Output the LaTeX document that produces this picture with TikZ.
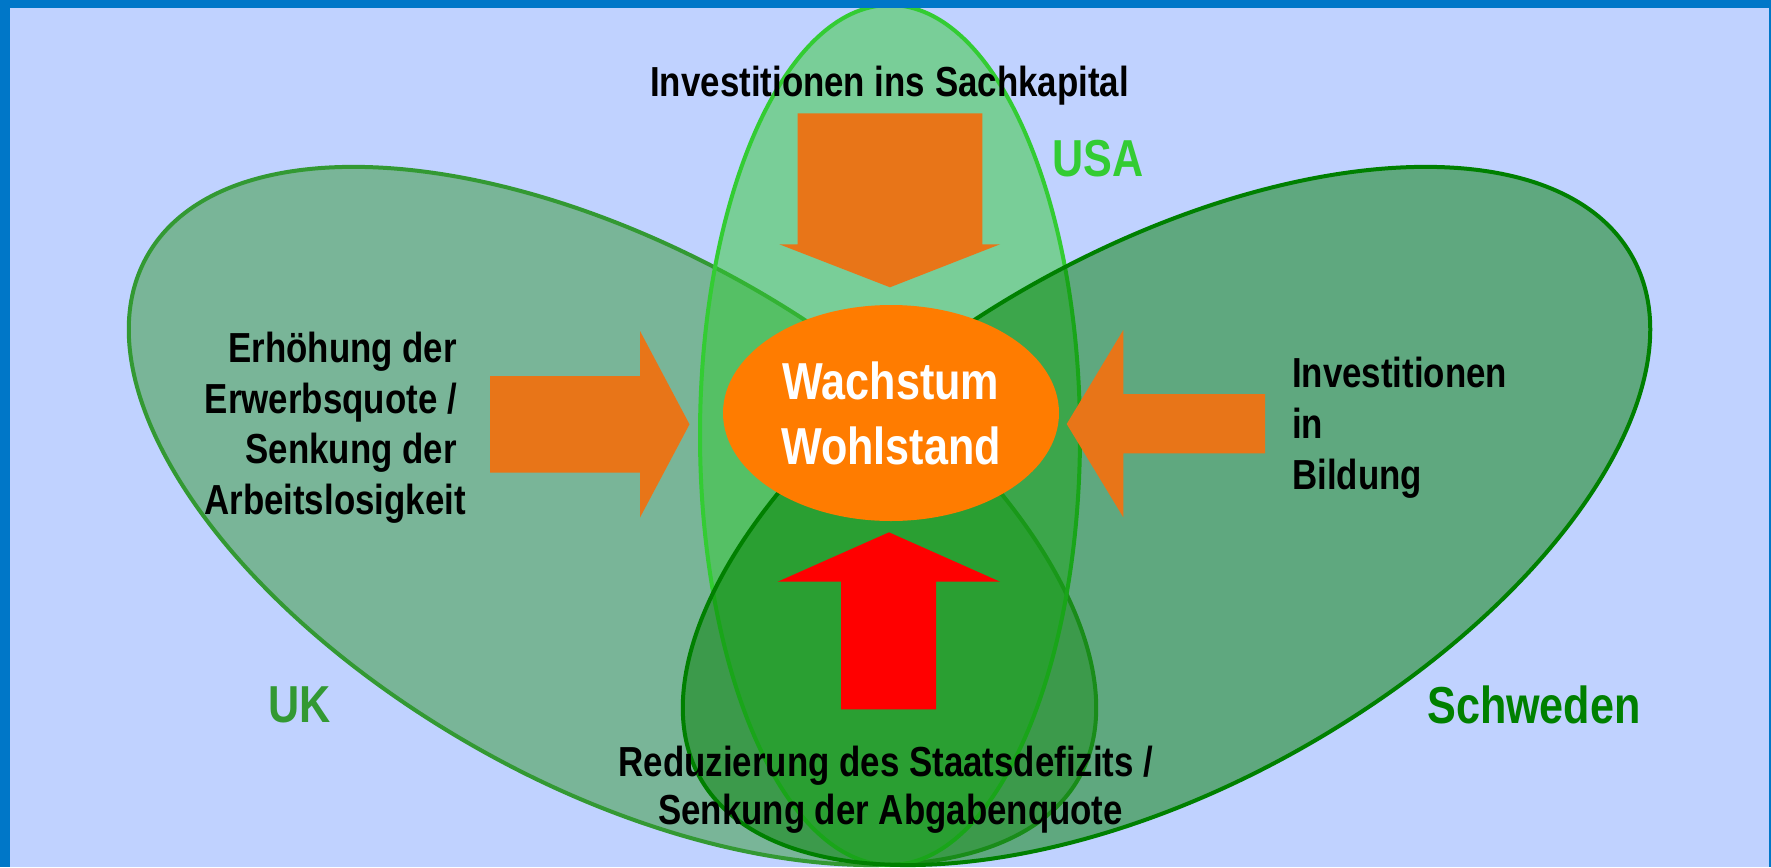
\documentclass[tikz,border=0pt]{standalone}
\usepackage{fontspec}
\newfontfamily\nar{Liberation Sans}[FakeStretch=0.83]
\usetikzlibrary{shapes.geometric}
\definecolor{bg}{RGB}{192,210,255}
\definecolor{framec}{RGB}{0,119,200}
\definecolor{ukcol}{RGB}{51,153,51}
\definecolor{usacol}{RGB}{51,204,51}
\definecolor{secol}{RGB}{0,128,0}
\definecolor{arrcol}{RGB}{232,117,24}
\definecolor{corecol}{RGB}{255,124,0}
\newcommand\eggoutline{(-534,0) .. controls (-534,-148) and (-295,-268) .. (0,-268)
  .. controls (295,-268) and (534,-142) .. (534,0)
  .. controls (534,142) and (295,268) .. (0,268)
  .. controls (-295,268) and (-534,148) .. (-534,0) -- cycle}
\begin{document}
\begin{tikzpicture}[x=1pt,y=-1pt,
  region/.style={line width=4pt, fill opacity=0.5},
  blockarrow/.style={fill=arrcol, draw=none},
  txt/.style={font=\nar\bfseries\fontsize{42}{50}\selectfont, inner sep=0pt, text=black},
  lab/.style={font=\nar\bfseries\fontsize{52}{60}\selectfont, inner sep=0pt},
]
\useasboundingbox (0,0) rectangle (1771,867);
\fill[bg] (0,0) rectangle (1771,867);
\begin{scope}
\clip (0,0) rectangle (1771,867);
\coordinate (ukcenter) at (613,517);
\coordinate (usacenter) at (890,435);
\coordinate (secenter) at (1166,517);
% UK
\begin{scope}[shift={(ukcenter)}, rotate=-29.2]
\draw[region, draw=ukcol, fill=ukcol] \eggoutline;
\end{scope}
% USA
\draw[region, draw=usacol, fill=usacol]
  (usacenter) ellipse [x radius=190pt, y radius=430pt];
% Schweden
\begin{scope}[shift={(secenter)}, rotate=29.2, xscale=-1]
\draw[region, draw=secol, fill=secol] \eggoutline;
\end{scope}
\end{scope}

% block arrows
\fill[blockarrow] (797.7,113.3) -- (982.3,113.3) -- (982.3,244.3) -- (1000,244.3)
  -- (890,287.3) -- (779.3,244.3) -- (797.7,244.3) -- cycle;
\fill[blockarrow] (490,376) -- (640,376) -- (640,331) -- (689.5,424.3)
  -- (640,517.5) -- (640,472.7) -- (490,472.7) -- cycle;
\fill[blockarrow] (1265,394) -- (1123.3,394) -- (1123.3,330) -- (1066.7,424)
  -- (1123.3,517.3) -- (1123.3,453.3) -- (1265,453.3) -- cycle;
\fill[red] (841,709.3) -- (841,581.7) -- (777.7,581.7) -- (889,532.3)
  -- (1000,581.7) -- (936,581.7) -- (936,709.3) -- cycle;

% centre
\node[ellipse, fill=corecol, minimum width=336pt, minimum height=216pt, inner sep=0pt,
  text=white, align=center, font=\nar\bfseries\fontsize{52}{65}\selectfont]
  (core) at (891,413) {Wachstum\\Wohlstand};

% texts
\node[txt, anchor=base] (top) at (889.5,96) {Investitionen ins Sachkapital};
\node[txt, anchor=base east] (l1) at (457,362) {Erhöhung der};
\node[txt, anchor=base east] (l2) at (457,413) {Erwerbsquote /};
\node[txt, anchor=base east] (l3) at (457,463.5) {Senkung der};
\node[txt, anchor=base east] (l4) at (466,514) {Arbeitslosigkeit};
\node[txt, anchor=base west] (r1) at (1292,387.7) {Investitionen};
\node[txt, anchor=base west] (r2) at (1292,438) {in};
\node[txt, anchor=base west] (r3) at (1292,489) {Bildung};
\node[txt, anchor=base] (b1) at (886,776) {Reduzierung des Staatsdefizits /};
\node[txt, anchor=base] (b2) at (890.5,824.5) {Senkung der Abgabenquote};

% labels
\node[lab, text=ukcol, anchor=base west] (uk) at (268,722.7) {UK};
\node[lab, text=usacol, anchor=base west] (usa) at (1052,176) {USA};
\node[lab, text=secol, anchor=base west] (se) at (1427,723.3) {Schweden};

% frame
\fill[framec] (0,0) rectangle (1771,8);
\fill[framec] (0,0) rectangle (10,867);
\fill[framec] (1769,0) rectangle (1771,867);
\end{tikzpicture}
\end{document}
